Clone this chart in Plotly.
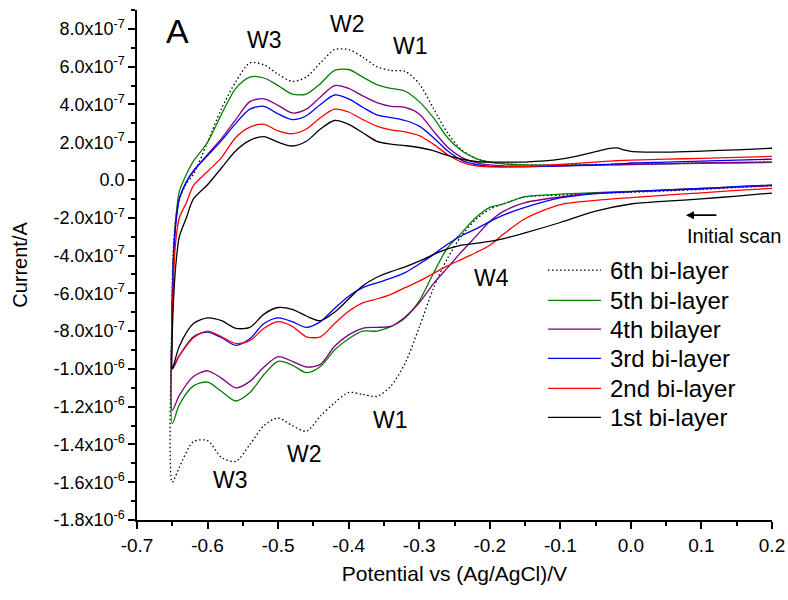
import plotly.graph_objects as go

# Cyclic voltammograms of the multilayer film, one trace per bi-layer count.
# Currents are stored in units of 1e-7 A.

# Cathodic sweep (initial scan, 0.2 V -> -0.65 V)
lower_x = [0.2, 0.15, 0.1, 0.05, 0.0, -0.05, -0.1, -0.15, -0.18, -0.2, -0.22, -0.24,
           -0.26, -0.28, -0.30, -0.32, -0.34, -0.36, -0.38, -0.40, -0.42, -0.44,
           -0.46, -0.48, -0.50, -0.52, -0.54, -0.56, -0.58, -0.60, -0.62, -0.64, -0.65]

# Anodic return sweep (-0.65 V -> 0.2 V)
upper_x = [-0.6505, -0.649, -0.647, -0.645, -0.64, -0.63, -0.62, -0.60, -0.58, -0.56,
           -0.54, -0.52, -0.50, -0.48, -0.46, -0.44, -0.42, -0.40, -0.38, -0.36,
           -0.34, -0.32, -0.30, -0.28, -0.26, -0.24, -0.22, -0.20, -0.18, -0.15,
           -0.10, -0.05, -0.03, -0.02, -0.01, 0.0, 0.05, 0.10, 0.15, 0.2]

bl6_lower = [-0.3, -0.4, -0.5, -0.58, -0.65, -0.72, -0.8, -0.9, -1.25, -1.55, -2.1, -2.95,
             -4.15, -5.75, -7.8, -9.7, -10.9, -11.45, -11.35, -11.25, -11.8, -12.5,
             -13.3, -13.0, -12.6, -13.0, -14.0, -14.9, -14.7, -13.8, -13.85, -15.2, -16.0]
bl6_upper = [-7.0, -4.0, -2.8, -2.0, -1.0, -0.2, 0.3, 2.0, 3.8, 5.2,
             6.2, 6.1, 5.6, 5.22, 5.45, 6.2, 6.9, 6.9, 6.5, 6.0,
             5.8, 5.75, 5.1, 3.8, 2.5, 1.6, 1.15, 0.95, 0.87, 0.8,
             0.8, 0.82, 0.83, 0.84, 0.84, 0.85, 0.87, 0.9, 0.92, 0.95]

bl5_lower = [-0.27, -0.35, -0.45, -0.52, -0.6, -0.67, -0.75, -0.88, -1.26, -1.45, -2.0, -2.8,
             -3.6, -4.95, -6.4, -7.3, -7.75, -8.0, -8.0, -8.4, -9.0, -9.87,
             -10.2, -9.8, -9.6, -10.3, -11.25, -11.7, -11.2, -10.7, -10.9, -11.9, -12.9]
bl5_upper = [-7.5, -4.5, -3.0, -2.0, -0.6, 0.3, 1.0, 2.0, 3.5, 4.85,
             5.45, 5.4, 5.0, 4.55, 4.55, 5.1, 5.8, 5.85, 5.45, 5.05,
             4.85, 4.7, 4.15, 3.3, 2.25, 1.55, 1.15, 0.95, 0.85, 0.8,
             0.78, 0.8, 0.81, 0.82, 0.82, 0.83, 0.85, 0.88, 0.9, 0.93]

bl4_lower = [-0.3, -0.38, -0.47, -0.55, -0.62, -0.7, -0.9, -1.2, -1.65, -2.2, -3.0, -3.8,
             -4.65, -5.5, -6.5, -7.25, -7.75, -7.8, -7.85, -8.2, -8.8, -9.76,
             -9.9, -9.6, -9.35, -9.9, -10.66, -11.0, -10.5, -10.1, -10.4, -11.4, -12.2]
bl4_upper = [-8.0, -5.0, -3.3, -2.3, -1.0, -0.1, 0.45, 1.35, 2.2, 3.2,
             4.15, 4.3, 3.95, 3.55, 3.75, 4.4, 5.0, 4.85, 4.45, 4.1,
             3.9, 3.85, 3.5, 2.6, 1.75, 1.2, 0.92, 0.8, 0.75, 0.72,
             0.74, 0.78, 0.8, 0.8, 0.81, 0.82, 0.85, 0.9, 0.93, 0.95]

bl3_lower = [-0.27, -0.35, -0.45, -0.53, -0.62, -0.72, -0.95, -1.45, -1.85, -2.2, -2.6, -2.95,
             -3.4, -3.95, -4.45, -4.9, -5.2, -5.45, -5.7, -6.15, -6.8, -7.5,
             -7.8, -7.5, -7.3, -7.6, -8.4, -8.75, -8.35, -8.05, -8.3, -9.3, -10.0]
bl3_upper = [-8.0, -5.0, -3.3, -2.3, -1.0, -0.1, 0.5, 1.3, 2.1, 3.0,
             3.75, 3.9, 3.5, 3.2, 3.4, 4.0, 4.5, 4.3, 3.85, 3.45,
             3.3, 3.15, 2.85, 2.25, 1.55, 1.05, 0.82, 0.72, 0.7, 0.7,
             0.75, 0.8, 0.83, 0.85, 0.87, 0.9, 0.95, 1.0, 1.05, 1.1]

bl2_lower = [-0.44, -0.55, -0.68, -0.8, -0.93, -1.08, -1.3, -2.05, -2.85, -3.45, -3.85, -4.2,
             -4.55, -4.95, -5.35, -5.7, -6.05, -6.3, -6.5, -6.95, -7.6, -8.3,
             -8.3, -7.75, -7.5, -7.85, -8.5, -8.65, -8.3, -8.0, -8.35, -9.3, -9.9]
bl2_upper = [-8.5, -6.0, -4.2, -3.2, -2.0, -1.2, -0.3, 0.45, 1.2, 2.25,
             2.8, 2.95, 2.6, 2.45, 2.7, 3.3, 3.75, 3.6, 3.2, 2.85,
             2.65, 2.55, 2.35, 1.9, 1.35, 0.95, 0.75, 0.7, 0.7, 0.72,
             0.82, 0.95, 1.0, 1.02, 1.04, 1.05, 1.1, 1.15, 1.2, 1.25]

bl1_lower = [-0.69, -0.85, -1.0, -1.12, -1.27, -1.65, -2.25, -2.8, -3.1, -3.25, -3.35, -3.45,
             -3.65, -3.95, -4.3, -4.6, -4.85, -5.15, -5.6, -6.3, -7.0, -7.45,
             -7.2, -6.85, -6.75, -7.1, -7.8, -7.85, -7.45, -7.3, -7.6, -8.8, -10.0]
bl1_upper = [-9.0, -7.0, -5.5, -4.5, -3.0, -2.0, -1.0, -0.25, 0.65, 1.55,
             2.1, 2.3, 2.0, 1.8, 2.05, 2.7, 3.15, 2.95, 2.5, 2.05,
             1.9, 1.82, 1.72, 1.55, 1.3, 1.1, 0.98, 0.95, 0.95, 0.95,
             1.1, 1.5, 1.68, 1.7, 1.6, 1.52, 1.48, 1.53, 1.6, 1.68]

series_names = ["6th bi-layer", "5th bi-layer", "4th bilayer",
                "3rd bi-layer", "2nd bi-layer", "1st bi-layer"]
series_lower = [bl6_lower, bl5_lower, bl4_lower, bl3_lower, bl2_lower, bl1_lower]
series_upper = [bl6_upper, bl5_upper, bl4_upper, bl3_upper, bl2_upper, bl1_upper]
series_colors = ["#000000", "#008000", "#800080", "#0000FF", "#FF0000", "#000000"]
series_dash = ["1.5px,2.5px", "solid", "solid", "solid", "solid", "solid"]

x_ticks = [-0.7, -0.6, -0.5, -0.4, -0.3, -0.2, -0.1, 0.0, 0.1, 0.2]
x_ticklabels = ["-0.7", "-0.6", "-0.5", "-0.4", "-0.3", "-0.2", "-0.1", "0.0", "0.1", "0.2"]
y_ticks = [8e-7, 6e-7, 4e-7, 2e-7, 0.0, -2e-7, -4e-7, -6e-7, -8e-7,
           -1.0e-6, -1.2e-6, -1.4e-6, -1.6e-6, -1.8e-6]
y_ticklabels = ["8.0x10<sup>-7</sup>", "6.0x10<sup>-7</sup>", "4.0x10<sup>-7</sup>",
                "2.0x10<sup>-7</sup>", "0.0", "-2.0x10<sup>-7</sup>", "-4.0x10<sup>-7</sup>",
                "-6.0x10<sup>-7</sup>", "-8.0x10<sup>-7</sup>", "-1.0x10<sup>-6</sup>",
                "-1.2x10<sup>-6</sup>", "-1.4x10<sup>-6</sup>", "-1.6x10<sup>-6</sup>",
                "-1.8x10<sup>-6</sup>"]

FONT = "Liberation Sans, Arial, sans-serif"
SCALE = 1e-7

fig = go.Figure()
for name, lo, up, col, dash in zip(series_names, series_lower, series_upper,
                                   series_colors, series_dash):
    xs = lower_x + upper_x
    ys = [v * SCALE for v in lo + up]
    fig.add_trace(go.Scatter(
        x=xs, y=ys, mode="lines", name=name, showlegend=False,
        line=dict(color=col, width=1.3, dash=dash, shape="spline", smoothing=0.8),
    ))

# Legend block drawn inside the plot area
leg_y = [-4.77, -6.37, -7.9, -9.44, -11.03, -12.57]
for name, col, dash, yy in zip(series_names, series_colors, series_dash, leg_y):
    fig.add_shape(type="line", xref="x", yref="y",
                  x0=-0.1175, x1=-0.0424, y0=yy * SCALE, y1=yy * SCALE,
                  line=dict(color=col, width=1.3, dash=dash))
    fig.add_annotation(x=-0.0325, y=yy * SCALE, text=name, showarrow=False,
                       xanchor="left", yanchor="middle",
                       font=dict(family=FONT, size=24, color="black"))

labels = [
    ("A", -0.643, 7.9, 34),
    ("W3", -0.519, 7.43, 23), ("W2", -0.401, 8.28, 23), ("W1", -0.313, 7.11, 23),
    ("W3", -0.568, -15.9, 23), ("W2", -0.462, -14.48, 23), ("W1", -0.341, -12.68, 23),
    ("W4", -0.198, -5.2, 23),
]
for txt, xx, yy, sz in labels:
    fig.add_annotation(x=xx, y=yy * SCALE, text=txt, showarrow=False,
                       xanchor="center", yanchor="middle",
                       font=dict(family=FONT, size=sz, color="black"))

fig.add_annotation(x=0.1475, y=-2.97 * SCALE, text="Initial scan", showarrow=False,
                   xanchor="center", yanchor="middle",
                   font=dict(family=FONT, size=20, color="black"))
fig.add_annotation(x=0.078, y=-1.86 * SCALE, ax=32, ay=0, text="", showarrow=True,
                   arrowhead=2, arrowsize=1, arrowwidth=1.6, arrowcolor="black")

fig.update_layout(
    width=788, height=600,
    margin=dict(l=137, r=16, t=10, b=80),
    plot_bgcolor="white", paper_bgcolor="white",
    font=dict(family=FONT, size=18, color="black"),
    showlegend=False,
)
fig.update_xaxes(
    range=[-0.7, 0.2], tickvals=x_ticks, ticktext=x_ticklabels, automargin=False,
    showline=True, linecolor="black", linewidth=1.5, showgrid=False, zeroline=False,
    ticks="outside", ticklen=7, tickwidth=1.5, tickcolor="black",
    minor=dict(dtick=0.05, tick0=-0.7, ticks="outside", ticklen=4, tickwidth=1.5,
               tickcolor="black", showgrid=False),
    tickfont=dict(size=19),
    title=dict(text="Potential vs (Ag/AgCl)/V", font=dict(size=21), standoff=12),
)
fig.update_yaxes(
    range=[-1.8e-6, 9e-7], tickvals=y_ticks, ticktext=y_ticklabels, automargin=False,
    showline=True, linecolor="black", linewidth=1.5, showgrid=False, zeroline=False,
    ticks="outside", ticklen=7, tickwidth=1.5, tickcolor="black",
    minor=dict(dtick=1e-7, tick0=0, ticks="outside", ticklen=4, tickwidth=1.5,
               tickcolor="black", showgrid=False),
    tickfont=dict(size=18),
    title=dict(text="Current/A", font=dict(size=20), standoff=20),
)

fig.write_html("out.html")
